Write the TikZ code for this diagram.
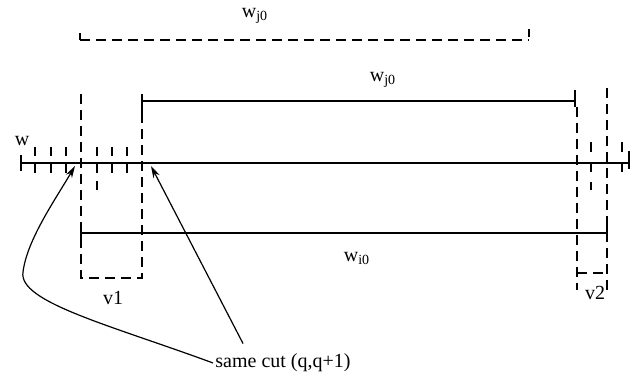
\documentclass[tikz,border=0pt]{standalone}
\usepackage{fontspec}
\setmainfont{Liberation Serif}
\usetikzlibrary{arrows.meta}

\begin{document}
\begin{tikzpicture}[x=0.5pt, y=-0.5pt,
    seg/.style={line width=0.8pt},
    cutline/.style={line width=0.8pt, dash pattern=on 5pt off 3pt},
    tickmark/.style={line width=0.8pt, dash pattern=on 4.5pt off 4pt},
    lbl/.style={font=\normalsize, inner sep=1pt},
    ptr/.style={line width=0.6pt, -{Stealth[length=6pt, width=3.5pt]}}]
  \useasboundingbox (0,0) rectangle (642,384);

  % Top dashed bracket
  \draw[cutline] (80,40) -- (529,40);
  \draw[seg] (80,33) -- (80,40);
  \draw[seg] (529,29) -- (529,37);
  \node[lbl] (wtop) at (255,16) {w\textsubscript{j0}};

  % Middle segment
  \draw[seg] (142,101) -- (575,101);
  \draw[seg] (142,94) -- (142,113);
  \draw[seg] (575,90) -- (575,107);
  \node[lbl] (wmid) at (383,80) {w\textsubscript{j0}};

  % Main line w with ticks
  \draw[seg] (21,163) -- (629,163);
  \draw[seg] (21,155) -- (21,171);
  \draw[seg] (629,151) -- (629,169);
  \node[lbl] (w) at (22,141) {w};
  \foreach \x in {35,51,66,112,127}
    \draw[tickmark] (\x,147) -- (\x,173);
  \draw[tickmark] (97,147) -- (97,190);
  \draw[tickmark, dash pattern=on 5pt off 5pt] (591,142) -- (591,190);
  \draw[tickmark, dash pattern=on 5pt off 5pt] (622,142) -- (622,172);

  % Box v1
  \draw[cutline] (81,94) -- (81,278) -- (142,278) -- (142,113);
  \node[lbl] (v1) at (113,298) {v1};

  % Bottom segment
  \draw[seg] (81,233) -- (607,233);
  \draw[seg] (81,225) -- (81,242);
  \draw[seg] (607,225) -- (607,241);
  \node[lbl] (wbot) at (357,258) {w\textsubscript{i0}};

  % Box v2
  \draw[cutline] (577,107) -- (577,290);
  \draw[cutline] (607,88) -- (607,290);
  \draw[cutline] (577,273) -- (607,273);
  \node[lbl] (v2) at (595,293) {v2};

  % Pointers to the cut
  \node[lbl] (cut) at (283,363) {same cut (q,q+1)};
  \coordinate (cutL) at (75,166);
  \coordinate (cutR) at (151,166);
  \draw[ptr] (cut.west) .. controls (110,325) and (18,302) .. (23,272)
    .. controls (27,240) and (55,200) .. (cutL);
  \draw[ptr] ([xshift=15pt, yshift=4pt]cut.north west) -- (cutR);
\end{tikzpicture}
\end{document}
